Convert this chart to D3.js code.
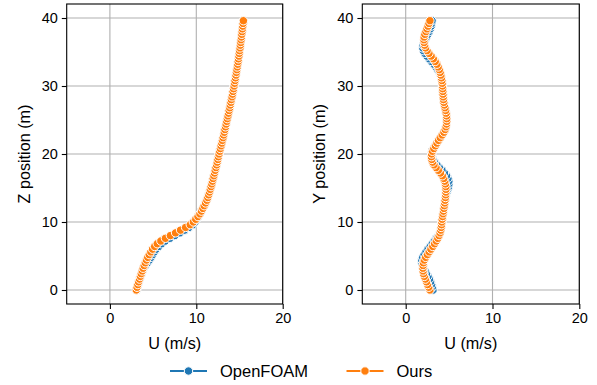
<!DOCTYPE html>
<html>
<head>
<meta charset="utf-8">
<script src="https://cdn.jsdelivr.net/npm/d3@7"></script>
<style>
  html, body { margin: 0; padding: 0; background: #fff; }
  svg { display: block; font-family: "Liberation Sans", Arial, sans-serif; }
</style>
</head>
<body>
<svg id="chart" width="597" height="385"></svg>
<script>
// ---- data ----
const positions = [
  0.0,0.4,0.8,1.2,1.6,2.0,2.4,2.8,3.2,3.6,4.0,4.4,4.8,5.2,5.6,6.0,6.4,6.8,7.2,7.6,
  8.0,8.4,8.8,9.2,9.6,10.0,10.4,10.8,11.2,11.6,12.0,12.4,12.8,13.2,13.6,14.0,14.4,14.8,15.2,15.6,
  16.0,16.4,16.8,17.2,17.6,18.0,18.4,18.8,19.2,19.6,20.0,20.4,20.8,21.2,21.6,22.0,22.4,22.8,23.2,23.6,
  24.0,24.4,24.8,25.2,25.6,26.0,26.4,26.8,27.2,27.6,28.0,28.4,28.8,29.2,29.6,30.0,30.4,30.8,31.2,31.6,
  32.0,32.4,32.8,33.2,33.6,34.0,34.4,34.8,35.2,35.6,36.0,36.4,36.8,37.2,37.6,38.0,38.4,38.8,39.2,39.6
];

// Left panel: U vs Z
const zOpenFOAM = [
  3.10,3.19,3.28,3.37,3.48,3.58,3.68,3.79,3.92,4.12,4.35,4.58,4.78,4.95,5.14,5.36,5.66,5.98,6.40,6.93,
  7.50,8.10,8.63,9.16,9.60,9.86,10.04,10.24,10.42,10.60,10.76,10.91,11.07,11.22,11.33,11.43,11.53,11.62,11.71,11.79,
  11.87,11.95,12.03,12.11,12.19,12.27,12.35,12.42,12.49,12.56,12.63,12.71,12.79,12.87,12.95,13.02,13.10,13.17,13.24,13.31,
  13.38,13.45,13.52,13.59,13.66,13.73,13.80,13.87,13.93,14.00,14.06,14.13,14.19,14.25,14.31,14.37,14.43,14.48,14.54,14.59,
  14.64,14.69,14.74,14.79,14.84,14.88,14.93,14.97,15.01,15.06,15.10,15.14,15.18,15.22,15.26,15.30,15.33,15.37,15.41,15.45
];
const zOurs = [
  3.05,3.14,3.23,3.32,3.43,3.53,3.63,3.74,3.85,3.97,4.10,4.23,4.38,4.55,4.74,4.94,5.18,5.48,5.90,6.43,
  7.00,7.60,8.18,8.76,9.30,9.66,9.94,10.19,10.42,10.60,10.76,10.91,11.07,11.22,11.33,11.43,11.53,11.62,11.71,11.79,
  11.87,11.95,12.03,12.11,12.19,12.27,12.35,12.42,12.49,12.56,12.63,12.71,12.79,12.87,12.95,13.02,13.10,13.17,13.24,13.31,
  13.38,13.45,13.52,13.59,13.66,13.73,13.80,13.87,13.93,14.00,14.06,14.13,14.19,14.25,14.31,14.37,14.43,14.48,14.54,14.59,
  14.64,14.69,14.74,14.79,14.84,14.88,14.93,14.97,15.01,15.06,15.10,15.14,15.18,15.22,15.26,15.30,15.33,15.37,15.41,15.45
];

// Right panel: U vs Y
const yOpenFOAM = [
  3.15,3.07,2.98,2.87,2.74,2.57,2.39,2.22,2.06,1.93,1.86,1.85,1.95,2.12,2.34,2.57,2.82,3.06,3.30,3.53,
  3.74,3.91,4.03,4.09,4.13,4.16,4.20,4.25,4.30,4.35,4.40,4.45,4.50,4.54,4.61,4.68,4.77,4.86,4.94,4.98,
  4.97,4.87,4.70,4.46,4.18,3.88,3.59,3.33,3.14,3.03,2.98,3.04,3.24,3.42,3.60,3.78,3.98,4.20,4.40,4.55,
  4.64,4.70,4.73,4.73,4.71,4.66,4.60,4.53,4.46,4.39,4.35,4.32,4.30,4.28,4.26,4.24,4.21,4.17,4.12,4.02,
  3.87,3.69,3.48,3.23,2.97,2.69,2.42,2.19,2.03,1.97,2.01,2.12,2.26,2.41,2.56,2.71,2.83,2.93,2.99,3.04
];
const yOurs = [
  2.79,2.65,2.52,2.40,2.28,2.15,2.05,2.00,1.98,2.00,2.04,2.14,2.30,2.50,2.70,2.90,3.12,3.33,3.52,3.70,
  3.85,3.96,4.04,4.09,4.13,4.16,4.20,4.25,4.30,4.35,4.40,4.45,4.50,4.54,4.58,4.61,4.63,4.64,4.63,4.58,
  4.50,4.38,4.22,4.00,3.76,3.50,3.26,3.10,3.00,2.96,2.98,3.08,3.24,3.42,3.60,3.78,3.98,4.20,4.40,4.55,
  4.64,4.70,4.73,4.73,4.71,4.66,4.60,4.53,4.46,4.39,4.35,4.32,4.30,4.28,4.26,4.24,4.21,4.17,4.12,4.05,
  3.97,3.87,3.74,3.59,3.40,3.18,2.93,2.68,2.46,2.29,2.18,2.12,2.10,2.12,2.20,2.33,2.45,2.57,2.68,2.79
];

const xTicks = [0, 10, 20];
const yTicks = [0, 10, 20, 30, 40];
const seriesNames = ["OpenFOAM", "Ours"];
const seriesColors = ["#1f77b4", "#ff7f0e"];
const xLabel = "U (m/s)";
const panelYLabels = ["Z position (m)", "Y position (m)"];

// ---- layout ----
const svg = d3.select("#chart");
const plotTop = 4, plotBottom = 304;
const panels = [
  { left: 66.7, right: 282.7, series: [zOpenFOAM, zOurs], ylabel: panelYLabels[0] },
  { left: 362.3, right: 579.3, series: [yOpenFOAM, yOurs], ylabel: panelYLabels[1] }
];
const tickFont = 14.5, labelFont = 16.2, legendFont = 16.5;

panels.forEach(p => {
  const x = d3.scaleLinear().domain([-5, 20]).range([p.left, p.right]);
  const y = d3.scaleLinear().domain([-2.06, 42.06]).range([plotBottom, plotTop]);
  const g = svg.append("g");

  // grid
  g.append("g").selectAll("line").data(xTicks).join("line")
    .attr("x1", d => x(d)).attr("x2", d => x(d))
    .attr("y1", plotTop).attr("y2", plotBottom)
    .attr("stroke", "#b0b0b0").attr("stroke-width", 1.1);
  g.append("g").selectAll("line").data(yTicks).join("line")
    .attr("x1", p.left).attr("x2", p.right)
    .attr("y1", d => y(d)).attr("y2", d => y(d))
    .attr("stroke", "#b0b0b0").attr("stroke-width", 1.1);

  // axes
  const ax = g.append("g").attr("transform", `translate(0,${plotBottom})`)
    .call(d3.axisBottom(x).tickValues(xTicks).tickSize(4.9).tickPadding(4).tickSizeOuter(0));
  const ay = g.append("g").attr("transform", `translate(${p.left},0)`)
    .call(d3.axisLeft(y).tickValues(yTicks).tickSize(4.9).tickPadding(4).tickSizeOuter(0));
  [ax, ay].forEach(a => {
    a.select(".domain").remove();
    a.selectAll("line").attr("stroke", "#000").attr("stroke-width", 1.1);
    a.selectAll("text").attr("font-size", tickFont).attr("fill", "#000")
      .attr("font-family", "'Liberation Sans', Arial, sans-serif");
  });

  // series
  const dg = g.append("g");
  p.series.forEach((vals, si) => {
    const pts = positions.map((pos, i) => [vals[i], pos]);
    dg.append("path").datum(pts)
      .attr("d", d3.line().x(d => x(d[0])).y(d => y(d[1])))
      .attr("fill", "none").attr("stroke", seriesColors[si]).attr("stroke-width", 2.1);
    dg.append("g").selectAll("circle").data(pts).join("circle")
      .attr("cx", d => x(d[0])).attr("cy", d => y(d[1])).attr("r", 4.2)
      .attr("fill", seriesColors[si]).attr("stroke", "#fff").attr("stroke-width", 1);
  });

  // frame
  g.append("rect").attr("x", p.left).attr("y", plotTop)
    .attr("width", p.right - p.left).attr("height", plotBottom - plotTop)
    .attr("fill", "none").attr("stroke", "#000").attr("stroke-width", 1.1);

  // labels
  g.append("text").attr("x", (p.left + p.right) / 2).attr("y", 349)
    .attr("text-anchor", "middle").attr("font-size", labelFont).text(xLabel);
  g.append("text")
    .attr("transform", `translate(${p.left - 37},${(plotTop + plotBottom) / 2}) rotate(-90)`)
    .attr("text-anchor", "middle").attr("font-size", labelFont).text(p.ylabel);
});

// legend
const legendItems = [
  { x: 170, name: seriesNames[0], color: seriesColors[0] },
  { x: 346.5, name: seriesNames[1], color: seriesColors[1] }
];
const lg = svg.append("g");
legendItems.forEach(it => {
  lg.append("line").attr("x1", it.x).attr("x2", it.x + 37).attr("y1", 371).attr("y2", 371)
    .attr("stroke", it.color).attr("stroke-width", 2.1);
  lg.append("circle").attr("cx", it.x + 18.5).attr("cy", 371).attr("r", 4.2)
    .attr("fill", it.color).attr("stroke", "#fff").attr("stroke-width", 1);
  lg.append("text").attr("x", it.x + 50).attr("y", 377).attr("font-size", legendFont).text(it.name);
});
</script>
</body>
</html>
